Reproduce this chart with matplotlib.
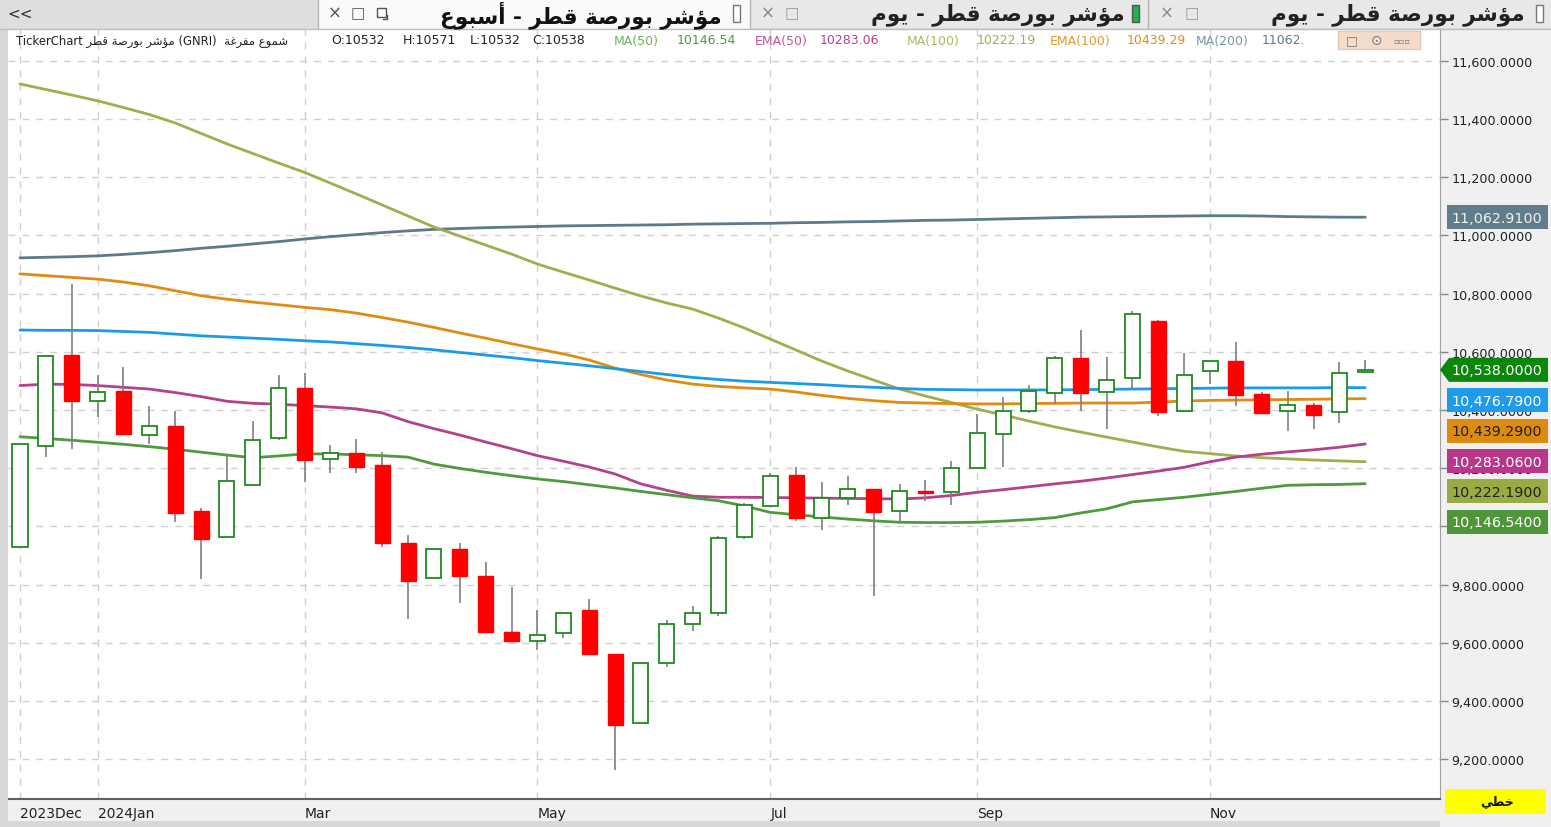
import matplotlib

matplotlib.use("Agg")
import matplotlib.pyplot as plt
from matplotlib.patches import Rectangle, Polygon

# weekly candles (index 0 = first week of Dec 2023)
opens = [9929, 10277, 10589, 10432, 10464, 10314, 10346, 10052, 9962, 10142,
         10303, 10476, 10231, 10252, 10211, 9943, 9823, 9922, 9830, 9636,
         9607, 9632, 9712, 9561, 9324, 9529, 9663, 9701, 9962, 10071,
         10176, 10029, 10096, 10128, 10052, 10120, 10117, 10200, 10317, 10396,
         10457, 10578, 10463, 10509, 10707, 10396, 10535, 10567, 10455, 10396,
         10417, 10392, 10532]
highs = [10283, 10590, 10833, 10520, 10547, 10415, 10398, 10063, 10249, 10361,
         10520, 10527, 10281, 10300, 10257, 9970, 9922, 9943, 9876, 9790,
         9713, 9705, 9749, 9561, 9529, 9678, 9727, 9968, 10080, 10185,
         10203, 10151, 10172, 10130, 10146, 10160, 10226, 10386, 10444, 10486,
         10585, 10676, 10583, 10741, 10710, 10596, 10570, 10635, 10463, 10466,
         10424, 10564, 10571]
lows = [9929, 10240, 10266, 10376, 10315, 10283, 10014, 9819, 9960, 10140,
        10298, 10151, 10183, 10183, 9928, 9681, 9823, 9735, 9633, 9602,
        9575, 9616, 9558, 9163, 9324, 9517, 9641, 9693, 9958, 10071,
        10019, 9987, 10074, 9761, 10019, 10086, 10074, 10198, 10203, 10390,
        10421, 10398, 10335, 10472, 10380, 10394, 10489, 10413, 10388, 10329,
        10335, 10355, 10532]
closes = [10283, 10587, 10431, 10463, 10318, 10346, 10045, 9956, 10155, 10298,
          10475, 10229, 10251, 10205, 9942, 9811, 9922, 9828, 9638, 9606,
          9627, 9701, 9560, 9318, 9529, 9664, 9701, 9960, 10073, 10174,
          10029, 10096, 10128, 10050, 10122, 10115, 10200, 10320, 10396, 10464,
          10578, 10457, 10504, 10730, 10394, 10520, 10567, 10452, 10390, 10417,
          10384, 10526, 10538]

ma50 = [10308, 10302, 10296, 10289, 10282, 10274, 10265, 10255, 10245, 10236,
        10242, 10249, 10249, 10246, 10243, 10238, 10214, 10199, 10186, 10174,
        10163, 10154, 10143, 10132, 10120, 10109, 10098, 10088, 10070, 10048,
        10040, 10032, 10025, 10019, 10014, 10013, 10013, 10014, 10018, 10023,
        10030, 10046, 10060, 10084, 10092, 10100, 10110, 10120, 10131, 10141,
        10143, 10144, 10146.54]
ema50 = [10484, 10489, 10488, 10484, 10478, 10472, 10460, 10446, 10430, 10423,
         10420, 10415, 10410, 10404, 10390, 10360, 10336, 10314, 10290, 10267,
         10243, 10224, 10204, 10180, 10146, 10124, 10104, 10100, 10100, 10099,
         10098, 10097, 10096, 10095, 10094, 10098, 10106, 10117, 10126, 10136,
         10146, 10155, 10166, 10178, 10190, 10203, 10222, 10238, 10248, 10256,
         10263, 10272, 10283.06]
ma100 = [11521, 11502, 11483, 11463, 11440, 11416, 11387, 11351, 11315, 11282,
         11249, 11217, 11180, 11143, 11105, 11067, 11029, 10998, 10967, 10936,
         10902, 10874, 10847, 10819, 10792, 10768, 10747, 10716, 10682, 10644,
         10606, 10568, 10534, 10503, 10472, 10448, 10426, 10403, 10383, 10362,
         10342, 10324, 10307, 10290, 10273, 10258, 10250, 10242, 10236, 10232,
         10228, 10225, 10222.19]
ema100 = [10868, 10862, 10856, 10850, 10840, 10827, 10810, 10793, 10781, 10771,
          10762, 10753, 10745, 10733, 10718, 10702, 10684, 10665, 10647, 10628,
          10610, 10593, 10572, 10544, 10522, 10503, 10489, 10481, 10476, 10472,
          10462, 10450, 10440, 10432, 10426, 10424, 10422, 10421, 10421, 10422,
          10423, 10424, 10424, 10424, 10427, 10431, 10433, 10434, 10435, 10436,
          10437, 10438, 10439.29]
ema200 = [10675, 10674, 10674, 10673, 10670, 10667, 10661, 10655, 10651, 10647,
          10643, 10638, 10634, 10628, 10622, 10615, 10607, 10598, 10589, 10580,
          10570, 10561, 10552, 10542, 10532, 10522, 10512, 10505, 10499, 10495,
          10491, 10487, 10482, 10478, 10474, 10471, 10470, 10469, 10469, 10469,
          10469, 10470, 10471, 10472, 10473, 10474, 10475, 10476, 10476, 10476,
          10476, 10477, 10476.79]
ma200 = [10923, 10925, 10927, 10930, 10935, 10941, 10948, 10956, 10963, 10971,
         10979, 10988, 10996, 11003, 11010, 11016, 11021, 11024, 11027, 11029,
         11031, 11033, 11034, 11035, 11036, 11037, 11039, 11040, 11041, 11042,
         11044, 11045, 11047, 11048, 11050, 11052, 11053, 11055, 11057, 11059,
         11061, 11063, 11064, 11065, 11066, 11067, 11068, 11068, 11067, 11065,
         11064, 11063, 11062.91]

tick_idx = [0, 3, 11, 20, 29, 37, 46]
tick_labels = ["2023Dec", "2024Jan", "Mar", "May", "Jul", "Sep", "Nov"]
y_ticks = list(range(9200, 11601, 200))

W, H = 1551, 828
PLOT_L, PLOT_R, PLOT_T, PLOT_B = 8, 1440, 30, 800
X0, DX = 20, 25.87
Y_HI, Y_LO = 11710.0, 9062.5

UP = "#1f8a1f"
DOWN = "#ff0000"
WICK = "#7f7f7f"

ARABIC_FORMS = {
    "ا": ("\uFE8D", "\uFE8E"),
    "أ": ("\uFE83", "\uFE84"),
    "ؤ": ("\uFE85", "\uFE86"),
    "ب": ("\uFE8F", "\uFE90", "\uFE91", "\uFE92"),
    "ة": ("\uFE93", "\uFE94"),
    "خ": ("\uFEA5", "\uFEA6", "\uFEA7", "\uFEA8"),
    "ر": ("\uFEAD", "\uFEAE"),
    "س": ("\uFEB1", "\uFEB2", "\uFEB3", "\uFEB4"),
    "ش": ("\uFEB5", "\uFEB6", "\uFEB7", "\uFEB8"),
    "ص": ("\uFEB9", "\uFEBA", "\uFEBB", "\uFEBC"),
    "ط": ("\uFEC1", "\uFEC2", "\uFEC3", "\uFEC4"),
    "ع": ("\uFEC9", "\uFECA", "\uFECB", "\uFECC"),
    "غ": ("\uFECD", "\uFECE", "\uFECF", "\uFED0"),
    "ف": ("\uFED1", "\uFED2", "\uFED3", "\uFED4"),
    "ق": ("\uFED5", "\uFED6", "\uFED7", "\uFED8"),
    "م": ("\uFEE1", "\uFEE2", "\uFEE3", "\uFEE4"),
    "و": ("\uFEED", "\uFEEE"),
    "ي": ("\uFEF1", "\uFEF2", "\uFEF3", "\uFEF4"),
}


def rtl(text):
    """Join Arabic letters into their contextual forms and put them in visual order."""
    out = []
    for i, ch in enumerate(text):
        forms = ARABIC_FORMS.get(ch)
        if forms is None:
            out.append(ch)
            continue
        prev = text[i - 1] if i > 0 else ""
        nxt = text[i + 1] if i < len(text) - 1 else ""
        joins_prev = len(ARABIC_FORMS.get(prev, ())) == 4
        joins_next = len(forms) == 4 and nxt in ARABIC_FORMS
        if joins_prev and joins_next:
            out.append(forms[3])
        elif joins_prev:
            out.append(forms[1])
        elif joins_next:
            out.append(forms[2])
        else:
            out.append(forms[0])
    return "".join(reversed(out))


def val_to_px(v):
    return PLOT_T + (Y_HI - v) / (Y_HI - Y_LO) * (PLOT_B - PLOT_T)


def draw_candles(ax):
    for i in range(len(opens)):
        o, h, l, c = opens[i], highs[i], lows[i], closes[i]
        ax.vlines(i, l, h, color=WICK, lw=1.2, zorder=3)
        bottom = min(o, c)
        height = max(abs(c - o), 4)
        if c >= o:
            rect = Rectangle((i - 0.29, bottom), 0.58, height, facecolor="white",
                             edgecolor=UP, lw=1.3, zorder=4)
        else:
            rect = Rectangle((i - 0.29, bottom), 0.58, height, facecolor=DOWN,
                             edgecolor=DOWN, lw=1.0, zorder=4)
        ax.add_patch(rect)


def main():
    fig = plt.figure(figsize=(W / 100, H / 100), dpi=100)
    fig.patch.set_facecolor("#f0f0f0")

    ax = fig.add_axes([PLOT_L / W, (H - PLOT_B) / H, (PLOT_R - PLOT_L) / W,
                       (PLOT_B - PLOT_T) / H])
    ax.set_facecolor("white")
    xs = list(range(len(closes)))

    lines = [
        (ma200, "#5b7b8a"),
        (ma100, "#9fae4f"),
        (ema100, "#e08c12"),
        (ema200, "#1a9be8"),
        (ema50, "#b3418b"),
        (ma50, "#4f9a3d"),
    ]
    for series, color in lines:
        ax.plot(xs, series, color=color, lw=2.0, zorder=2, solid_capstyle="round")

    draw_candles(ax)

    ax.set_xlim((PLOT_L - X0) / DX, (PLOT_R - X0) / DX)
    ax.set_ylim(Y_LO, Y_HI)
    ax.set_xticks(tick_idx)
    ax.set_xticklabels(tick_labels, fontsize=10, family="DejaVu Sans",
                       color="#222222")
    for lab in ax.get_xticklabels():
        lab.set_ha("left")
    ax.tick_params(axis="x", length=0, pad=5)
    ax.set_yticks(y_ticks)
    ax.set_yticklabels([f"{v:,.4f}" for v in y_ticks], fontsize=9.2,
                       family="DejaVu Sans", color="#222222")
    ax.yaxis.tick_right()
    ax.tick_params(axis="y", length=6, width=1, color="#888888", pad=2)
    ax.grid(True, color="#cfcfcf", lw=1, linestyle=(0, (5, 5)))
    ax.set_axisbelow(True)
    for side in ["top", "left"]:
        ax.spines[side].set_visible(False)
    ax.spines["right"].set_color("#a0a0a0")
    ax.spines["bottom"].set_color("#606060")
    ax.spines["bottom"].set_linewidth(1.5)

    # overlay in pixel coordinates for the window chrome
    top = fig.add_axes([0, 0, 1, 1], zorder=5)
    top.set_xlim(0, W)
    top.set_ylim(H, 0)
    top.axis("off")
    top.patch.set_alpha(0)

    # tab bar
    top.add_patch(Rectangle((0, 0), W, 30, facecolor="#dedede", edgecolor="none"))
    top.add_patch(Rectangle((318, 0), 432, 30, facecolor="#fbfaf8", edgecolor="none"))
    top.add_patch(Rectangle((750, 1), 398, 28, facecolor="#e8e8e8", edgecolor="none"))
    top.add_patch(Rectangle((1150, 1), 401, 28, facecolor="#e8e8e8", edgecolor="none"))
    for xsep in [318, 750, 1148]:
        top.plot([xsep, xsep], [1, 29], color="#b5b5b5", lw=1)
    top.plot([0, W], [30, 30], color="#bdbdbd", lw=1)
    top.text(20, 14, "<<", fontsize=11, ha="center", va="center", color="#333333")
    top.text(335, 14, "×", fontsize=12, ha="center", va="center", color="#555555")
    top.text(358, 14, "□", fontsize=11, ha="center", va="center", color="#555555")
    # restore-window icon drawn as a shape
    top.add_patch(Rectangle((377, 9), 9, 9, facecolor="none", edgecolor="#555555", lw=1))
    top.plot([383, 387, 387], [20, 20, 16], color="#555555", lw=1)
    top.text(722, 15, rtl("مؤشر بورصة قطر - أسبوع"), fontsize=15.5, weight="bold",
             ha="right", va="center", family="DejaVu Sans", color="#111111")
    top.add_patch(Rectangle((733, 6), 7, 17, facecolor="white", edgecolor="#777777", lw=1))
    top.text(768, 14, "×", fontsize=12, ha="center", va="center", color="#888888")
    top.text(792, 14, "□", fontsize=11, ha="center", va="center", color="#999999")
    top.text(1125, 15, rtl("مؤشر بورصة قطر - يوم"), fontsize=15.5, weight="bold",
             ha="right", va="center", family="DejaVu Sans", color="#222222")
    top.add_patch(Rectangle((1132, 6), 7, 17, facecolor="#22b14c", edgecolor="#555555", lw=1))
    top.text(1167, 14, "×", fontsize=12, ha="center", va="center", color="#888888")
    top.text(1192, 14, "□", fontsize=11, ha="center", va="center", color="#999999")
    top.text(1525, 15, rtl("مؤشر بورصة قطر - يوم"), fontsize=15.5, weight="bold",
             ha="right", va="center", family="DejaVu Sans", color="#222222")
    top.add_patch(Rectangle((1536, 6), 7, 17, facecolor="white", edgecolor="#777777", lw=1))

    # left edge and bottom strip
    top.add_patch(Rectangle((0, 30), PLOT_L, H - 30, facecolor="#d8d8d8", edgecolor="none"))
    top.add_patch(Rectangle((0, 822), PLOT_R, 6, facecolor="#d8d8d8", edgecolor="none"))

    # header line
    fam = ["DejaVu Sans"]
    hy = 41
    top.text(16, hy, "TickerChart " + rtl("مؤشر بورصة قطر") + " (GNRI)  " + rtl("شموع مفرغة"),
             fontsize=8.4, va="center", family=fam, color="#222222")
    last = len(closes) - 1
    header = [
        (331, f"O:{opens[last]}", "#222222"),
        (403, f"H:{highs[last]}", "#222222"),
        (470, f"L:{lows[last]}", "#222222"),
        (532, f"C:{closes[last]}", "#222222"),
        (614, "MA(50)", "#6db35a"),
        (677, f"{ma50[last]:.2f}", "#4f9a3d"),
        (755, "EMA(50)", "#c0559a"),
        (820, f"{ema50[last]:.2f}", "#b3418b"),
        (907, "MA(100)", "#a9b860"),
        (977, f"{ma100[last]:.2f}", "#9fae4f"),
        (1050, "EMA(100)", "#e39a30"),
        (1127, f"{ema100[last]:.2f}", "#e08c12"),
        (1196, "MA(200)", "#7a97a6"),
        (1262, f"{ma200[last]:.2f}"[:6], "#5b7b8a"),
    ]
    for x, txt, col in header:
        top.text(x, hy, txt, fontsize=9, va="center", family=fam, color=col)
    top.add_patch(Rectangle((1338, 32), 82, 18, facecolor="#f4dccb", edgecolor="#e8c7b0", lw=1))
    top.text(1352, 41, "□", fontsize=9, ha="center", va="center", color="#777777")
    top.text(1377, 41, "⊙", fontsize=10, ha="center", va="center", color="#777777")
    top.text(1402, 41, "▫▫▫", fontsize=6, ha="center", va="center", color="#777777")

    # value tags on the price scale, stacked so they do not overlap
    tags = [
        (ma200[last], "#5f7d8b", "#f2f2f2"),
        (closes[last], "#0b870b", "white"),
        (ema200[last], "#1e9bea", "white"),
        (ema100[last], "#dc8a10", "#222222"),
        (ema50[last], "#b7388b", "white"),
        (ma100[last], "#9aab43", "#222222"),
        (ma50[last], "#4f953a", "white"),
    ]
    tags.sort(key=lambda t: -t[0])
    prev_y = -100
    for v, face, txtcol in tags:
        yc = max(val_to_px(v), prev_y + 30.4)
        prev_y = yc
        if v == closes[last]:
            pts = [(1440, yc), (1449, yc - 12), (1548, yc - 12), (1548, yc + 12),
                   (1449, yc + 12)]
            top.add_patch(Polygon(pts, closed=True, facecolor=face, edgecolor="none"))
        else:
            top.add_patch(Rectangle((1447, yc - 12), 101, 24, facecolor=face,
                                    edgecolor="none"))
        top.text(1497, yc + 0.5, f"{v:,.4f}", fontsize=10.3, ha="center", va="center",
                 family="DejaVu Sans", color=txtcol)

    # line type button
    top.add_patch(Rectangle((1445, 790), 101, 25, facecolor="#ffff00", edgecolor="none"))
    top.text(1497, 802, rtl("خطي"), fontsize=9, weight="bold", ha="center", va="center",
             family="DejaVu Sans", color="#111111")

    fig.savefig("out.png", dpi=100, facecolor=fig.get_facecolor())


if __name__ == "__main__":
    main()
